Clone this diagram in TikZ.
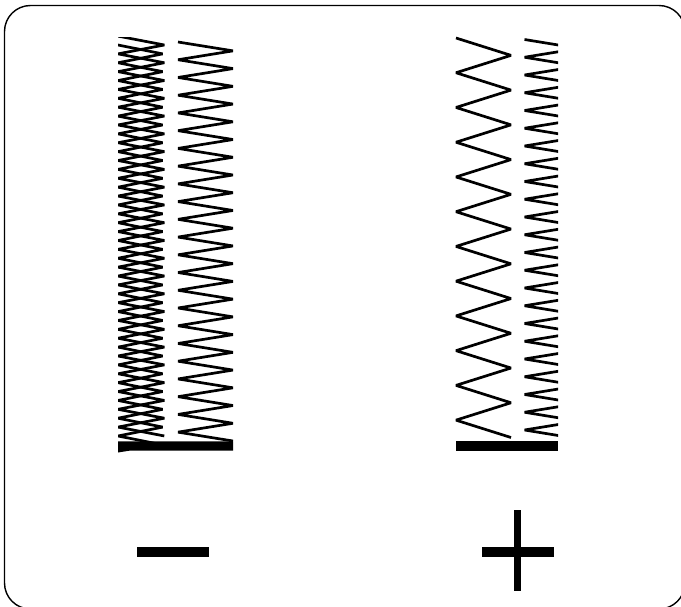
\documentclass[tikz,border=0pt]{standalone}
\begin{document}
\begin{tikzpicture}[x=1pt,y=-1pt,
  zig/.style={draw=black,line width=2.7pt,line join=bevel,line cap=butt},
  densezig/.style={zig,line width=2.7pt},
  frame/.style={draw=black,line width=1.4pt,rounded corners=26pt},
  solid/.style={fill=black,draw=none}]
\useasboundingbox (0,0) rectangle (681,607);
\begin{scope}
\clip (0,0) rectangle (681,607);
\draw[frame] (4.5,5.5) rectangle (685,609);
\end{scope}
% left dense column
\begin{scope}
\clip (118,38) rectangle (170,445);
\draw[densezig] (118,36.1) \foreach \k in {1,...,45} { -- ({mod(\k,2)==1 ? 164.3 : 118},{36.1+8.886*\k}) };
\draw[densezig] (118,45) \foreach \k in {1,...,45} { -- ({mod(\k,2)==1 ? 162.7 : 118},{45+8.886*\k}) };
\end{scope}
% left open column
\draw[zig] (178,42) \foreach \k in {1,...,45} { -- ({mod(\k,2)==1 ? 233 : 178},{42+8.867*\k}) };
% right wide column
\draw[zig] (456,38) \foreach \k in {1,...,23} { -- ({mod(\k,2)==1 ? 511 : 456},{38+17.37*\k}) };
% right clipped column
\begin{scope}
\clip (520,30) rectangle (558,445);
\draw[zig] (524.5,39.5) -- (579,48.4) \foreach \k in {1,...,22} { -- (524.5,{39.5+17.75*\k}) -- (579,{48.4+17.75*\k}) };
\end{scope}
% bars
\fill[solid] (118,441.3) -- (233,441.3) -- (233,450.6) -- (130,450.6) -- (118,452.5) -- cycle;
\fill[solid] (455.5,441.3) rectangle (558,450.6);
% minus and plus
\fill[solid] (137.3,547.3) rectangle (208.7,556.7);
\fill[solid] (482.3,547.3) rectangle (554,556.7);
\fill[solid] (514,510) rectangle (520.7,590.7);
\end{tikzpicture}
\end{document}
